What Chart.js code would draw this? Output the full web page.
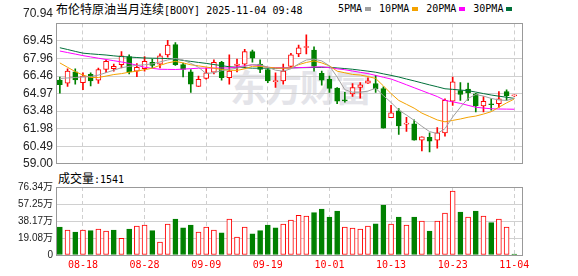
<!DOCTYPE html>
<html>
<head>
<meta charset="UTF-8">
<title>布伦特原油当月连续 K线</title>
<script src="https://cdnjs.cloudflare.com/ajax/libs/Chart.js/4.4.1/chart.umd.min.js"></script>
<style>
    body { margin: 0; background: #fff; }
    #wrap { position: relative; width: 578px; height: 276px; overflow: hidden; }
    #wrap canvas, #wrap .txt { position: absolute; }
    .txt { white-space: nowrap; color: #000; line-height: 16px; }
    .cjk { font-family: "Noto Sans CJK SC", sans-serif; font-size: 12px; }
    .mono { font-family: "DejaVu Sans Mono", monospace; font-size: 10px; }
    #mark { left: 230px; top: 68px; font: bold 37px "Noto Sans CJK SC", sans-serif; color: #e4e4e9; letter-spacing: -2px; line-height: 1; }
    #legend .box { display: inline-block; width: 6px; height: 4px; margin: 0 8px 1px 3px; }
</style>
</head>
<body>
<div id="wrap">
    <div id="mark" class="txt">东方财富</div>
    <div class="txt" style="left:56px; top:1px"><span class="cjk">布伦特原油当月连续</span><span class="mono">[BOOY] 2025-11-04 09:48</span></div>
    <div id="legend" class="txt mono" style="left:338px; top:1px"></div>
    <div class="txt" style="left:58px; top:170px"><span class="cjk">成交量</span><span class="mono">:1541</span></div>
    <canvas id="priceChart" width="578" height="177" style="left:0; top:0"></canvas>
    <canvas id="volChart" width="578" height="100" style="left:0; top:176px"></canvas>
</div>

<script>
    // trading days shown (index = candle position)
    const dates = ["08-13","08-14","08-15","08-18","08-19","08-20","08-21","08-22","08-25","08-26",
        "08-27","08-28","08-29","09-01","09-02","09-03","09-04","09-05","09-08","09-09",
        "09-10","09-11","09-12","09-15","09-16","09-17","09-18","09-19","09-22","09-23",
        "09-24","09-25","09-26","09-29","09-30","10-01","10-02","10-03","10-06","10-07",
        "10-08","10-09","10-10","10-13","10-14","10-15","10-16","10-17","10-20","10-21",
        "10-22","10-23","10-24","10-27","10-28","10-29","10-30","10-31","11-03","11-04"];
    const dateTicks = ["08-18","08-28","09-09","09-19","10-01","10-13","10-23","11-04"];

    const openP  = [66.13,65.86,66.82,65.91,66.60,66.11,67.02,67.10,67.43,68.12,
        66.88,67.10,67.62,67.48,68.26,69.14,67.43,66.82,65.58,66.27,
        66.79,67.62,66.32,67.37,67.48,68.54,67.48,67.02,65.99,66.05,
        67.29,68.35,68.89,68.68,66.69,66.19,65.44,64.40,64.95,65.49,
        65.86,65.83,65.39,62.92,63.50,62.38,62.40,61.02,61.26,61.02,
        61.63,64.33,65.22,65.36,64.95,63.92,64.04,64.12,65.14,64.77];
    const highP  = [66.38,67.07,67.07,66.74,66.74,67.15,67.85,67.48,68.54,68.26,
        67.52,68.12,67.90,68.35,69.51,69.31,67.57,67.02,66.46,67.15,
        67.85,67.71,68.26,67.90,68.73,68.68,67.85,67.07,66.74,67.48,
        68.40,69.09,69.97,68.95,66.88,66.46,65.49,65.08,65.83,65.91,
        66.32,66.52,65.55,63.97,63.70,62.95,62.73,61.30,61.63,62.09,
        64.53,66.38,65.91,65.86,65.00,64.72,64.53,65.14,65.30,64.85];
    const lowP   = [65.00,65.58,65.77,65.30,65.63,65.83,66.74,66.88,67.15,66.65,
        66.41,66.88,67.15,67.15,68.06,67.37,66.38,65.08,65.58,66.19,
        66.65,66.11,65.77,66.82,67.15,67.65,66.74,65.91,65.49,65.77,
        67.15,68.12,68.35,66.88,65.69,65.08,64.12,64.25,64.72,64.58,
        65.83,65.08,62.04,62.92,61.49,61.76,61.02,60.10,60.02,60.33,
        61.35,63.97,64.39,64.39,63.42,63.42,63.56,63.79,64.39,64.72];
    const closeP = [65.74,66.88,66.13,66.46,66.05,67.02,67.71,67.29,68.18,66.82,
        67.21,67.71,67.37,68.18,69.09,67.43,67.02,65.77,66.19,66.74,
        67.62,66.32,66.88,67.48,68.54,67.98,67.02,66.05,66.04,66.88,
        68.26,68.87,68.92,67.29,66.11,65.41,64.33,64.35,65.49,65.72,
        66.05,65.36,62.04,63.34,62.23,62.40,61.02,61.30,60.93,61.63,
        64.39,65.97,64.89,65.03,63.92,64.31,64.02,64.53,64.80,64.78];

    const ma5  = [66.26,66.30,66.34,66.38,66.42,66.54,66.75,66.96,67.17,67.29,
        67.37,67.42,67.50,67.66,67.83,67.96,67.83,67.54,67.21,66.67,
        66.75,66.92,67.04,67.13,67.29,67.43,67.42,67.21,66.96,66.88,
        67.08,67.50,67.83,67.90,67.75,67.33,66.38,65.30,65.09,65.09,
        65.18,65.43,64.80,64.22,63.56,63.15,62.69,62.19,61.74,61.57,
        61.99,62.98,63.81,64.56,64.89,64.76,64.56,64.43,64.39,64.56];
    const ma10 = [67.58,67.21,66.84,66.55,66.34,66.34,66.46,66.59,66.67,66.79,
        66.88,67.00,67.13,67.37,67.58,67.71,67.58,67.42,67.33,67.23,
        67.13,67.02,66.96,66.94,67.08,67.29,67.29,67.21,67.15,67.13,
        67.15,67.43,67.62,67.75,67.58,67.33,66.88,66.74,66.60,66.55,
        66.42,66.26,65.63,64.97,64.39,64.06,63.73,63.31,63.02,62.73,
        62.57,62.69,62.81,62.96,63.06,63.23,63.43,63.81,64.18,64.51];
    const ma20 = [68.59,68.46,68.33,68.20,68.09,67.98,67.87,67.77,67.66,67.54,
        67.38,67.21,67.12,67.04,67.03,67.02,67.05,67.09,67.13,67.14,
        67.14,67.15,67.15,67.24,67.33,67.42,67.35,67.21,67.17,67.16,
        67.15,67.18,67.20,67.23,67.25,67.17,67.08,67.00,66.89,66.78,
        66.67,66.52,66.36,66.21,65.97,65.72,65.47,65.22,64.97,64.72,
        64.39,64.27,64.14,63.97,63.81,63.74,63.68,63.66,63.65,63.64];
    const ma30 = [68.87,68.72,68.56,68.41,68.35,68.30,68.25,68.18,68.12,68.08,
        68.04,68.00,67.98,67.97,67.95,67.90,67.79,67.71,67.62,67.54,
        67.44,67.35,67.25,67.21,67.17,67.13,67.13,67.13,67.13,67.15,
        67.16,67.17,67.18,67.19,67.20,67.21,67.15,67.10,67.04,66.96,
        66.88,66.79,66.65,66.52,66.38,66.21,66.05,65.88,65.71,65.55,
        65.38,65.33,65.27,65.22,65.10,64.97,64.85,64.75,64.66,64.56];

    // volume in 万 (10k lots); volUp: 1 = red (close above previous close)
    const volume = [31.4,28.1,25.8,28.1,27.3,29.2,26.9,28.1,18.7,29.2,
        32.6,33.7,27.3,14.6,34.8,40.4,30.6,33.7,25.8,31.4,
        28.1,25.0,40.4,20.2,31.4,23.9,27.3,33.7,30.6,34.8,
        39.3,44.6,43.8,47.5,51.6,42.7,49.4,31.4,30.3,29.2,
        32.6,35.1,56.1,34.8,42.7,33.7,42.7,38.2,26.9,38.2,
        47.1,71.8,48.3,42.7,49.4,43.8,36.3,40.4,31.4,0.1541];
    const volUp = [0,1,0,1,0,1,1,0,1,0, 1,1,0,1,1,0,0,0,1,1,
        1,0,1,1,1,0,0,0,0,1, 1,1,1,0,0,0,0,1,1,1,
        1,0,0,1,0,1,0,1,0,1, 1,1,0,1,0,1,0,1,1,0];

    const priceTicks = [59.00,60.49,61.98,63.48,64.97,66.46,67.96,69.45,70.94];
    const volTicks = [0,19.08,38.17,57.25,76.34];

    const maNames = ["5PMA","10PMA","20PMA","30PMA"];
    const maColors = ["#a0a0a0","#f4a200","#ff00ff","#00703a"];
    const maSeries = [ma5, ma10, ma20, ma30];

    const RED = "#ff0000", GREEN = "#008000";
    const idx = dates.map((d, i) => i);
    const xTickIdx = dateTicks.map(d => dates.indexOf(d));
    const up = closeP.map((c, i) => c >= openP[i]);

    // legend: name then colour box
    document.getElementById("legend").innerHTML = maNames.map((n, k) =>
        n + '<span class="box" style="background:' + maColors[k] + '"></span>').join("");

    const framePlugin = {
        id: "frame",
        afterDraw(chart) {
            const { ctx, chartArea: a } = chart;
            ctx.save();
            ctx.strokeStyle = "#999";
            ctx.lineWidth = 1;
            ctx.strokeRect(Math.round(a.left) + 0.5, Math.round(a.top) + 0.5,
                Math.round(a.right - a.left), Math.round(a.bottom - a.top));
            ctx.restore();
        }
    };

    function xAxis(showLabels) {
        return {
            type: "linear", min: -0.5, max: 60, offset: false,
            afterBuildTicks: s => { s.ticks = xTickIdx.map(v => ({ value: v })); },
            afterFit: s => { s.height = showLabels ? 21 : 0; },
            grid: { color: "#cfcfcf", drawTicks: false, offset: false },
            border: { display: false, dash: [4, 3] },
            ticks: {
                display: showLabels, autoSkip: false, maxRotation: 0, padding: 4, color: RED,
                font: { family: "DejaVu Sans Mono", size: 10 },
                callback: v => dates[v]
            }
        };
    }

    function yAxis(min, max, ticks, font, label) {
        return {
            min: min, max: max,
            afterBuildTicks: s => { s.ticks = ticks.map(v => ({ value: v })); },
            afterFit: s => { s.width = 56; },
            grid: { color: "#d0d0d0", drawTicks: false },
            border: { display: false },
            ticks: { color: "#222", padding: 3, autoSkip: false, font: font, callback: label }
        };
    }

    const common = {
        responsive: false,
        animation: false,
        plugins: { legend: { display: false }, tooltip: { enabled: false } }
    };

    new Chart(document.getElementById("priceChart"), {
        type: "bar",
        data: {
            datasets: [
                {
                    label: "wick", order: 2, grouped: false, barThickness: 1, borderWidth: 0,
                    data: idx.map(i => ({ x: i, y: [lowP[i], highP[i]] })),
                    backgroundColor: up.map(u => u ? RED : GREEN)
                },
                {
                    label: "body", order: 1, grouped: false, barThickness: 5, minBarLength: 1,
                    borderWidth: 1, borderSkipped: false,
                    data: idx.map(i => ({ x: i, y: [openP[i], closeP[i]] })),
                    backgroundColor: up.map(u => u ? "#fff" : GREEN),
                    borderColor: up.map(u => u ? RED : GREEN)
                },
                ...maSeries.map((s, k) => ({
                    type: "line", label: maNames[k], order: 0,
                    data: idx.map(i => ({ x: i, y: s[i] })),
                    borderColor: maColors[k], borderWidth: 1, pointRadius: 0, tension: 0
                }))
            ]
        },
        options: {
            ...common,
            layout: { padding: { left: 0, right: 56, top: 21, bottom: 12 } },
            scales: {
                x: xAxis(false),
                y: yAxis(59, 70.94, priceTicks,
                    { family: "Liberation Sans", size: 12, lineHeight: 1.7 },
                    v => v === priceTicks[priceTicks.length - 1] ? [v.toFixed(2), ""] : v.toFixed(2))
            }
        },
        plugins: [framePlugin]
    });

    new Chart(document.getElementById("volChart"), {
        type: "bar",
        data: {
            datasets: [{
                label: "成交量", barThickness: 5, minBarLength: 1, borderWidth: 1, borderSkipped: false,
                data: idx.map(i => ({ x: i, y: volume[i] })),
                backgroundColor: volUp.map(u => u ? "#fff" : GREEN),
                borderColor: volUp.map(u => u ? RED : GREEN)
            }]
        },
        options: {
            ...common,
            layout: { padding: { left: 0, right: 56, top: 11, bottom: 0 } },
            scales: {
                x: xAxis(true),
                y: yAxis(0, 76.34, volTicks,
                    { family: "'Liberation Sans', 'Noto Sans CJK SC'", size: 10 },
                    v => v === 0 ? "0" : v.toFixed(2) + "万")
            }
        },
        plugins: [framePlugin]
    });
</script>
</body>
</html>
